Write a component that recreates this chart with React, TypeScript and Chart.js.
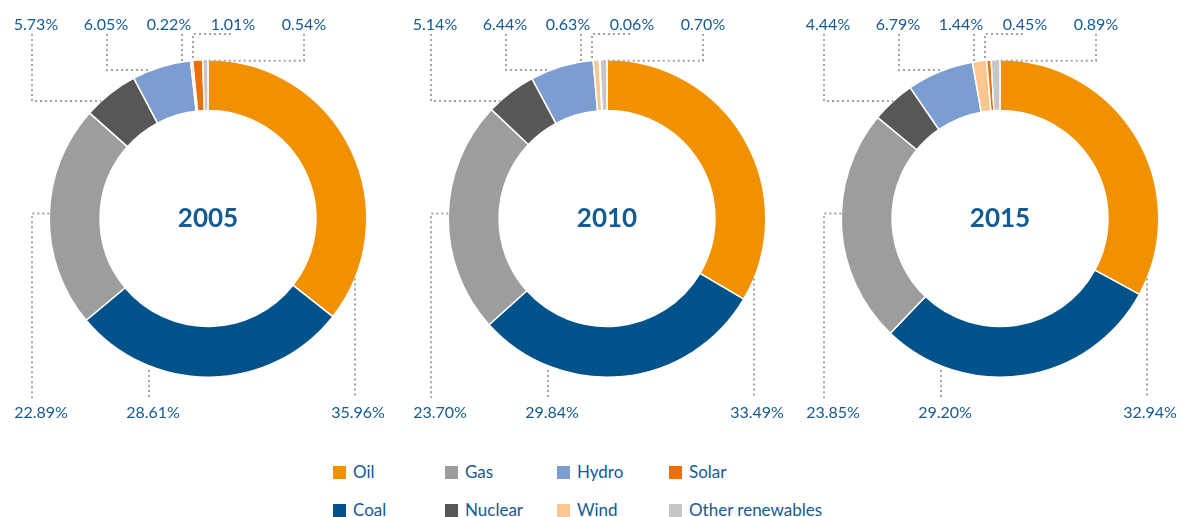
import React, { useEffect, useRef } from 'react';
import { Chart, registerables } from 'chart.js';

Chart.register(...registerables);

// ---------- data ----------
const categories = ['Oil', 'Coal', 'Gas', 'Nuclear', 'Hydro', 'Wind', 'Solar', 'Other renewables'];
const colors = ['#f29100', '#00528a', '#9d9d9c', '#575756', '#7b9dd2', '#fbc68f', '#ec6e07', '#c6c6c6'];
const years = ['2005', '2010', '2015'];
const share2005 = [35.96, 28.61, 22.89, 5.73, 6.05, 0.22, 1.01, 0.54];
const share2010 = [33.49, 29.84, 23.7, 5.14, 6.44, 0.63, 0.06, 0.7];
const share2015 = [32.94, 29.2, 23.85, 4.44, 6.79, 1.44, 0.45, 0.89];
const seriesByYear = [share2005, share2010, share2015];
// legend column-major order (2 rows)
const legendRow1 = [0, 2, 4, 6];
const legendRow2 = [1, 3, 5, 7];

// ---------- styles ----------
const TEXT = '#145a93';
const LINE = '#a3a3a3';
const FONT = 'Lato, "Noto Sans", sans-serif';
const CANVAS_W = 400;
const CANVAS_H = 440;
const CANVAS_LEFTS = [8, 407, 800];

function dotted(ctx: CanvasRenderingContext2D, pts: number[][]) {
  ctx.save();
  ctx.strokeStyle = LINE;
  ctx.lineWidth = 2;
  ctx.setLineDash([2, 3]);
  ctx.beginPath();
  ctx.moveTo(pts[0][0], pts[0][1]);
  for (let i = 1; i < pts.length; i++) ctx.lineTo(pts[i][0], pts[i][1]);
  ctx.stroke();
  ctx.restore();
}

const fmt = (v: number) => v.toFixed(2) + '%';

function makeOverlay(year: string, values: number[]) {
  return {
    id: 'overlay' + year,
    afterDraw(chart: any) {
      const arc: any = chart.getDatasetMeta(0).data[0];
      if (!arc) return;
      const cx = arc.x;
      const cy = arc.y;
      const r = arc.outerRadius;
      const ctx: CanvasRenderingContext2D = chart.ctx;
      const ringX = (y: number) => Math.sqrt(Math.max(r * r - (y - cy) * (y - cy), 0));
      const ringY = (x: number) => Math.sqrt(Math.max(r * r - (x - cx) * (x - cx), 0));

      // centre year
      ctx.save();
      ctx.fillStyle = TEXT;
      ctx.font = 'bold 26px ' + FONT;
      ctx.textAlign = 'center';
      ctx.textBaseline = 'middle';
      ctx.fillText(year, cx, cy);
      ctx.restore();

      const topY = 25;
      const botY = 413;
      // top labels: nuclear, hydro, wind, solar, other
      const lNuc = cx - 172;
      const lHyd = cx - 102;
      const lWind = cx - 39;
      const lSol = cx + 25;
      const lOth = cx + 96;
      // bottom labels: gas, coal, oil
      const lGas = cx - 167;
      const lCoal = cx - 55;
      const lOil = cx + 150;

      // leaders (top)
      let vx = lNuc - 4;
      dotted(ctx, [[vx, 34], [vx, 101], [cx - ringX(101), 101]]);
      vx = lHyd + 1;
      dotted(ctx, [[vx, 34], [vx, 70], [cx - ringX(70) - 3, 70]]);
      vx = lWind + 13;
      dotted(ctx, [[vx, 34], [vx, cy - ringY(vx) - 1]]);
      vx = lSol - 40;
      dotted(ctx, [[lSol - 2, 34], [vx, 34], [vx, cy - ringY(vx) - 1]]);
      vx = lOth;
      dotted(ctx, [[vx, 34], [vx, cy - r + 1], [cx - 3, cy - r + 1]]);
      // leaders (bottom)
      vx = lGas - 9;
      dotted(ctx, [[cx - ringX(cy - 5), cy - 5], [vx, cy - 5], [vx, 398]]);
      vx = lCoal - 4;
      dotted(ctx, [[vx, cy + ringY(vx) + 4], [vx, 400]]);
      vx = lOil - 3;
      dotted(ctx, [[vx, cy + ringY(vx)], [vx, 398]]);

      ctx.save();
      ctx.fillStyle = TEXT;
      ctx.font = '16px ' + FONT;
      ctx.textAlign = 'center';
      ctx.textBaseline = 'middle';
      ctx.fillText(fmt(values[3]), lNuc, topY);
      ctx.fillText(fmt(values[4]), lHyd, topY);
      ctx.fillText(fmt(values[5]), lWind, topY);
      ctx.fillText(fmt(values[6]), lSol, topY);
      ctx.fillText(fmt(values[7]), lOth, topY);
      ctx.fillText(fmt(values[2]), lGas, botY);
      ctx.fillText(fmt(values[1]), lCoal, botY);
      ctx.fillText(fmt(values[0]), lOil, botY);
      ctx.restore();
    },
  };
}

function Donut({ idx }: { idx: number }) {
  const ref = useRef<HTMLCanvasElement | null>(null);
  useEffect(() => {
    if (!ref.current) return;
    const chart = new Chart(ref.current, {
      type: 'doughnut',
      data: {
        labels: categories,
        datasets: [
          {
            data: seriesByYear[idx],
            backgroundColor: colors,
            borderColor: '#ffffff',
            borderWidth: 1.5,
            hoverOffset: 0,
          },
        ],
      },
      options: {
        responsive: false,
        devicePixelRatio: 1,
        animation: false,
        events: [],
        cutout: '68%',
        layout: { padding: { top: 59, bottom: 62, left: 0, right: 0 } },
        plugins: { legend: { display: false }, tooltip: { enabled: false } },
      } as any,
      plugins: [makeOverlay(years[idx], seriesByYear[idx])],
    });
    const fonts: any = (document as any).fonts;
    if (fonts && fonts.load) {
      Promise.all([fonts.load('16px Lato'), fonts.load('bold 26px Lato')])
        .then(() => chart.update())
        .catch(() => {});
    }
    return () => chart.destroy();
  }, [idx]);
  return (
    <canvas
      ref={ref}
      width={CANVAS_W}
      height={CANVAS_H}
      style={{ position: 'absolute', left: CANVAS_LEFTS[idx], top: 0, width: CANVAS_W, height: CANVAS_H }}
    />
  );
}

function LegendItem({ i, x, y }: { i: number; x: number; y: number }) {
  return (
    <div
      style={{
        position: 'absolute',
        left: x,
        top: y - 10,
        height: 20,
        display: 'flex',
        alignItems: 'center',
        whiteSpace: 'nowrap',
      }}
    >
      <span style={{ display: 'inline-block', width: 13, height: 13, background: colors[i], marginRight: 7 }} />
      <span style={{ color: TEXT, fontFamily: FONT, fontSize: 17, lineHeight: '20px' }}>{categories[i]}</span>
    </div>
  );
}

export default function App() {
  const colX = [333, 445, 557, 669];
  return (
    <div style={{ position: 'fixed', left: 0, top: 0, width: 1181, height: 517, background: '#ffffff', overflow: 'hidden' }}>
      {years.map((_, i) => (
        <Donut key={i} idx={i} />
      ))}
      {legendRow1.map((ci, k) => (
        <LegendItem key={'a' + k} i={ci} x={colX[k]} y={472} />
      ))}
      {legendRow2.map((ci, k) => (
        <LegendItem key={'b' + k} i={ci} x={colX[k]} y={510} />
      ))}
    </div>
  );
}
